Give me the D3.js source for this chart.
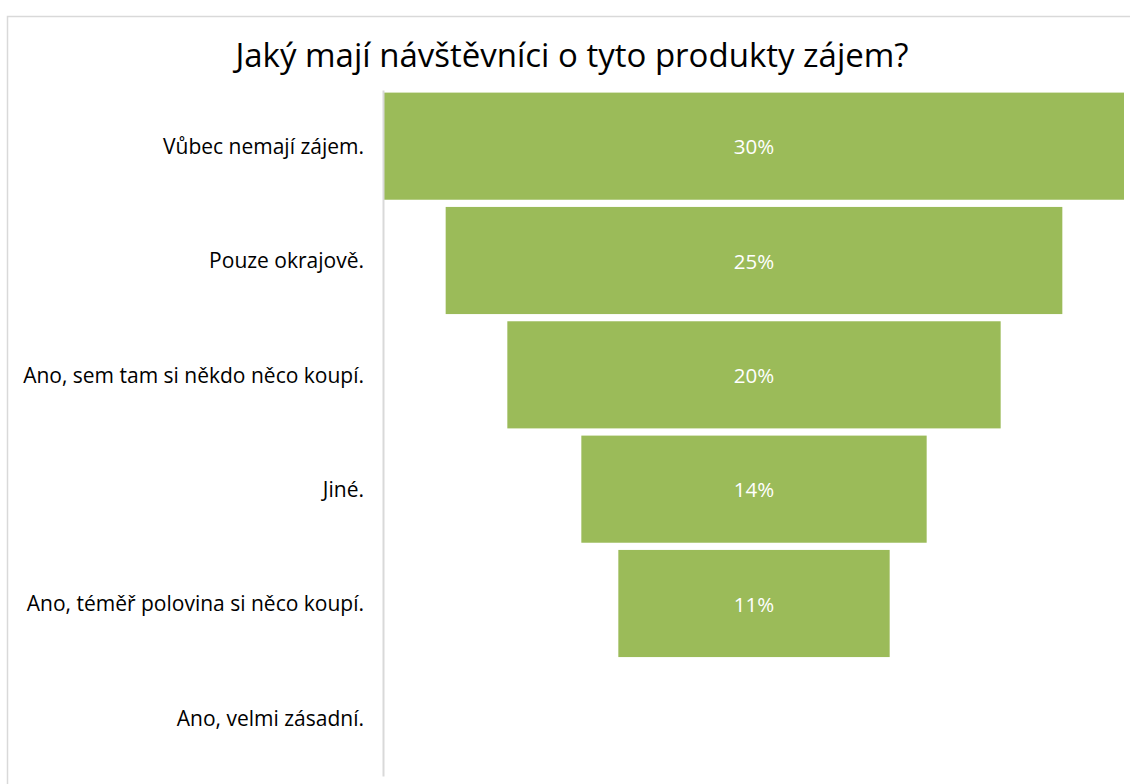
<!DOCTYPE html>
<html>
<head>
<meta charset="utf-8">
<script src="https://cdn.jsdelivr.net/npm/d3@7"></script>
<style>
  html, body { margin: 0; padding: 0; background: #fff; }
  svg { display: block; }
</style>
</head>
<body>
<svg id="chart" width="1130" height="784"></svg>
<script>
const title = "Jaký mají návštěvníci o tyto produkty zájem?";
const categories = [
  "Vůbec nemají zájem.",
  "Pouze okrajově.",
  "Ano, sem tam si někdo něco koupí.",
  "Jiné.",
  "Ano, téměř polovina si něco koupí.",
  "Ano, velmi zásadní."
];
const values = [30, 25, 20, 14, 11, 0];
const valueLabels = ["30%", "25%", "20%", "14%", "11%", ""];

const svg = d3.select("#chart");
const font = "'Open Sans', 'Noto Sans', sans-serif";

// chart area border
svg.append("rect")
  .attr("x", 7.5).attr("y", 16.5)
  .attr("width", 1300).attr("height", 900)
  .attr("fill", "#fff").attr("stroke", "#d9d9d9").attr("stroke-width", 1.5);

const plot = { left: 384, right: 1124, top: 89, bottom: 775 };
const center = (plot.left + plot.right) / 2;

const y = d3.scaleBand()
  .domain(categories)
  .range([plot.top, plot.bottom])
  .paddingInner(0.063)
  .paddingOuter(0.0315);

const w = d3.scaleLinear()
  .domain([0, d3.max(values)])
  .range([0, plot.right - plot.left]);

// title
svg.append("text")
  .attr("x", 572).attr("y", 67)
  .attr("text-anchor", "middle")
  .attr("font-family", font)
  .attr("font-size", 33)
  .attr("fill", "#000")
  .text(title);

const rows = categories.map((c, i) => ({ c, v: values[i], l: valueLabels[i] }));

// bars
svg.append("g").selectAll("rect")
  .data(rows.filter(d => d.v > 0))
  .join("rect")
  .attr("x", d => center - w(d.v) / 2)
  .attr("y", d => y(d.c))
  .attr("width", d => w(d.v))
  .attr("height", y.bandwidth())
  .attr("fill", "#9BBB59");

// value labels
svg.append("g").selectAll("text")
  .data(rows.filter(d => d.l))
  .join("text")
  .attr("x", center)
  .attr("y", d => y(d.c) + y.bandwidth() / 2 + 1)
  .attr("dy", "0.35em")
  .attr("text-anchor", "middle")
  .attr("font-family", font)
  .attr("font-size", 20.5)
  .attr("fill", "#fff")
  .text(d => d.l);

// category axis
const axis = svg.append("g")
  .attr("transform", `translate(${plot.left - 1},1)`)
  .call(d3.axisLeft(y).tickSize(0).tickPadding(19));
axis.select(".domain").attr("stroke", "#d9d9d9").attr("stroke-width", 2);
axis.selectAll("text")
  .attr("font-family", font)
  .attr("font-size", 21)
  .attr("fill", "#000");
</script>
</body>
</html>
